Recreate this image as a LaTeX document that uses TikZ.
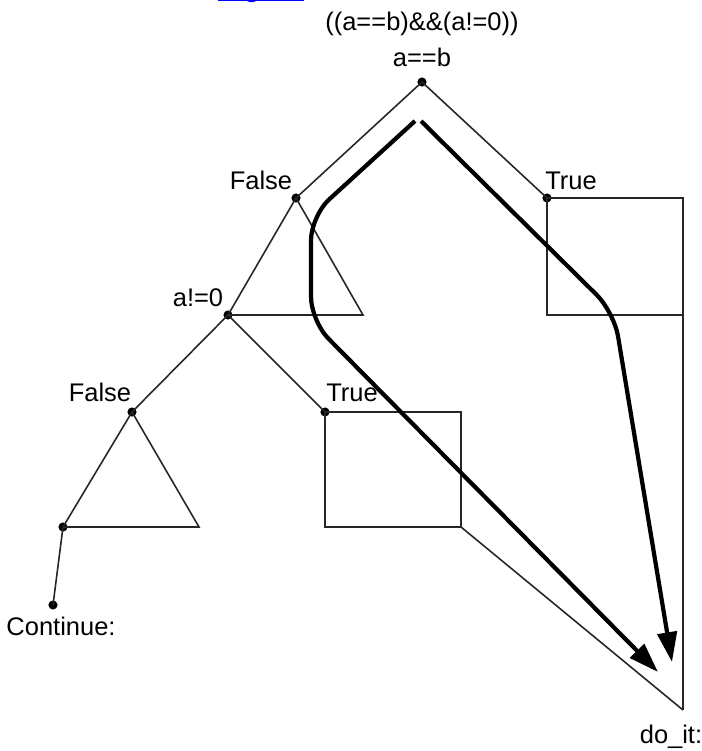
\documentclass[tikz,border=0pt]{standalone}
\usepackage{fontspec}
\setmainfont{Liberation Sans}
\usetikzlibrary{arrows.meta,positioning,calc}

\begin{document}
\begin{tikzpicture}[
    x=0.02cm, y=-0.02cm,
    font=\fontsize{14.5}{17}\selectfont,
    dot/.style={circle,fill=black,inner sep=0pt,minimum size=5.2pt},
    lbl/.style={inner sep=0pt,anchor=base},
    edge/.style={draw=black!85,line width=0.9pt},
    flow/.style={line width=2.4pt,rounded corners=14pt,-{Triangle[length=17pt,width=11pt]}},
    link/.style={text=blue,inner sep=0pt,anchor=base,font=\fontsize{17}{20}\selectfont}
]
    \useasboundingbox (0,0) rectangle (702,751);

    % decision points
    \node[dot] (root) at (422,82) {};
    \node[dot] (fa) at (296,198) {};
    \node[dot] (tr) at (547,198) {};
    \node[dot] (neq) at (228,315) {};
    \node[dot] (fb) at (132,412) {};
    \node[dot] (tb) at (325,412) {};
    \node[dot] (leaf) at (63,527) {};
    \node[dot] (cont) at (53,605) {};
    \coordinate (doit) at (683,710);

    % corners of the sub-trees
    \coordinate (triA) at (363,315);
    \coordinate (triB) at (199,527);
    \coordinate (boxA-ne) at (683,198);
    \coordinate (boxA-se) at (683,315);
    \coordinate (boxA-sw) at (547,315);
    \coordinate (boxB-ne) at (461,412);
    \coordinate (boxB-se) at (461,527);
    \coordinate (boxB-sw) at (325,527);

    % labels
    \node[link] (fig) at (261,-4) {Figure};
    \node[lbl] (expr) at (422,30) {((a==b)\&\&(a!=0))};
    \node[lbl] (rootlbl) at (422,66) {a==b};
    \node[lbl] (falbl) at (261,189) {False};
    \node[lbl] (trlbl) at (571,189) {True};
    \node[lbl] (neqlbl) at (198,306) {a!=0};
    \node[lbl] (fblbl) at (100,401) {False};
    \node[lbl] (tblbl) at (352,401) {True};
    \node[lbl] (contlbl) at (61,635) {Continue:};
    \node[lbl] (doitlbl) at (671,743) {do\_it:};

    \draw[blue,line width=1pt] ($(fig.base west)+(0,4.5)$) -- ($(fig.base east)+(0,4.5)$);

    % tree
    \draw[edge] (root.center) -- (fa.center);
    \draw[edge] (root.center) -- (tr.center);
    \draw[edge] (fa.center) -- (neq.center) -- (triA) -- cycle;
    \draw[edge] (tr.center) -- (boxA-ne) -- (boxA-se) -- (boxA-sw) -- cycle;
    \draw[edge] (boxA-se) -- (doit);
    \draw[edge] (neq.center) -- (fb.center);
    \draw[edge] (neq.center) -- (tb.center);
    \draw[edge] (fb.center) -- (leaf.center) -- (triB) -- cycle;
    \draw[edge] (tb.center) -- (boxB-ne) -- (boxB-se) -- (boxB-sw) -- cycle;
    \draw[edge] (boxB-se) -- (doit);
    \draw[edge] (leaf.center) -- (cont.center);

    % control flow
    \coordinate (startL) at (415,121);
    \coordinate (bendL1) at (311,216);
    \coordinate (bendL2) at (311,321);
    \coordinate (tipL) at (658,672);
    \coordinate (startR) at (421,121);
    \coordinate (bendR) at (614,312);
    \coordinate (tipR) at (672,662);
    \draw[flow] (startL) -- (bendL1) -- (bendL2) -- (tipL);
    \draw[flow] (startR) -- (bendR) -- (tipR);
\end{tikzpicture}
\end{document}
